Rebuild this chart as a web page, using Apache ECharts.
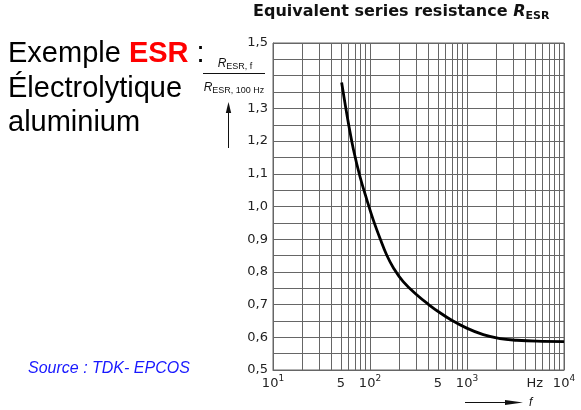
<!DOCTYPE html>
<html>
<head>
<meta charset="utf-8">
<script src="https://cdn.jsdelivr.net/npm/echarts@6/dist/echarts.min.js"></script>
<style>
  html, body { margin: 0; padding: 0; background: #fff; }
  #chart { width: 581px; height: 410px; }
</style>
</head>
<body>
<div id="chart"></div>
<script>
// Normalised ESR curve R_ESR,f / R_ESR,100Hz versus frequency (Hz)
const freqHz = [51, 55.3, 60.8, 67.3, 78.9, 92.5, 108, 127, 149, 174, 220, 303, 399, 527, 696, 993, 1472, 2189, 3254, 5230, 10000];
const esrRatio = [1.379, 1.315, 1.244, 1.176, 1.091, 1.022, 0.959, 0.902, 0.851, 0.813, 0.770, 0.730, 0.701, 0.675, 0.652, 0.628, 0.608, 0.596, 0.591, 0.588, 0.587];

// Frequency axis labels (base text + optional exponent)
const xLabelValues = [10, 50, 100, 500, 1000, 5000, 10000];
const xLabelBase = ['10', '5', '10', '5', '10', 'Hz', '10'];
const xLabelExp = ['1', '', '2', '', '3', '', '4'];

// Ratio axis labels; 1,4 is left out where the quantity name sits
const yLabelValues = [0.5, 0.6, 0.7, 0.8, 0.9, 1.0, 1.1, 1.2, 1.3, 1.5];

// Intermediate log-grid lines inside each decade
const minorFreqLines = [20, 30, 40, 50, 60, 70, 80, 90,
                        200, 300, 400, 500, 600, 700, 800, 900,
                        2000, 3000, 4000, 5000, 6000, 7000, 8000, 9000];

const gridColor = '#666';
const chart = echarts.init(document.getElementById('chart'), null, { renderer: 'canvas' });

const option = {
  animation: false,
  backgroundColor: '#fff',
  grid: {
    left: 273, top: 43, right: 17, bottom: 40,
    show: true, borderColor: gridColor, borderWidth: 1
  },
  xAxis: {
    type: 'log',
    logBase: 10,
    min: 10,
    max: 10000,
    axisLine: { show: true, lineStyle: { color: gridColor, width: 1 } },
    axisTick: { show: false },
    splitLine: { show: true, lineStyle: { color: gridColor, width: 1 } },
    axisLabel: {
      customValues: xLabelValues,
      margin: 4,
      color: '#222',
      fontFamily: 'DejaVu Sans',
      fontSize: 13,
      formatter: function (v) {
        const i = xLabelValues.findIndex(function (x) { return Math.abs(x - v) / x < 1e-6; });
        if (i < 0) return '';
        return xLabelExp[i] ? '{b|' + xLabelBase[i] + '}{s|' + xLabelExp[i] + '}' : '{b|' + xLabelBase[i] + '}';
      },
      rich: {
        b: { fontFamily: 'DejaVu Sans', fontSize: 13, color: '#222', lineHeight: 16, verticalAlign: 'bottom' },
        s: { fontFamily: 'DejaVu Sans', fontSize: 9, color: '#222', lineHeight: 10, verticalAlign: 'top' }
      }
    }
  },
  yAxis: {
    type: 'value',
    min: 0.5,
    max: 1.5,
    interval: 0.1,
    axisLine: { show: true, lineStyle: { color: gridColor, width: 1 } },
    axisTick: { show: false },
    splitLine: { show: true, lineStyle: { color: gridColor, width: 1 } },
    minorTick: { show: false, splitNumber: 2 },
    minorSplitLine: { show: true, lineStyle: { color: gridColor, width: 1 } },
    axisLabel: {
      margin: 5,
      color: '#222',
      fontFamily: 'DejaVu Sans',
      fontSize: 13,
      formatter: function (v) {
        const shown = yLabelValues.some(function (y) { return Math.abs(y - v) < 1e-6; });
        return shown ? v.toFixed(1).replace('.', ',') : '';
      }
    }
  },
  series: [
    {
      // carries the 2..9 lines of each decade
      type: 'line',
      data: [],
      z: 1,
      silent: true,
      markLine: {
        z: 1,
        silent: true,
        symbol: ['none', 'none'],
        label: { show: false },
        lineStyle: { type: 'solid', color: gridColor, width: 1 },
        emphasis: { disabled: true },
        data: minorFreqLines.map(function (f) { return { xAxis: f }; })
      }
    },
    {
      name: 'ESR',
      type: 'line',
      z: 5,
      smooth: 0.4,
      showSymbol: false,
      symbol: 'none',
      lineStyle: { color: '#000', width: 2.8 },
      data: freqHz.map(function (f, i) { return [f, esrRatio[i]]; })
    }
  ],
  graphic: [
    {
      type: 'text', x: 253, y: 1.5,
      style: {
        text: '{t|Equivalent series resistance }{r|R}{s|ESR}',
        rich: {
          t: { fontFamily: 'DejaVu Sans', fontWeight: 'bold', fontSize: 16, fill: '#111', lineHeight: 20 },
          r: { fontFamily: 'DejaVu Sans', fontWeight: 'bold', fontStyle: 'italic', fontSize: 16, fill: '#111', lineHeight: 20 },
          s: { fontFamily: 'DejaVu Sans', fontWeight: 'bold', fontSize: 11, fill: '#111', lineHeight: 11, verticalAlign: 'bottom' }
        }
      }
    },
    {
      type: 'text', x: 8, y: 37,
      style: {
        text: '{n|Exemple }{e|ESR}{n| :}\n{n|Électrolytique}\n{n|aluminium}',
        rich: {
          n: { fontFamily: 'Liberation Sans', fontSize: 29, fill: '#000', lineHeight: 34.5 },
          e: { fontFamily: 'Liberation Sans', fontWeight: 'bold', fontSize: 29, fill: '#ff0000', lineHeight: 34.5 }
        }
      }
    },
    {
      type: 'text', x: 28, y: 361,
      style: {
        text: 'Source : TDK- EPCOS',
        fontFamily: 'Liberation Sans', fontStyle: 'italic', fontSize: 16,
        fill: '#1818ff', lineHeight: 16
      }
    },
    // y-axis quantity: R_ESR,f / R_ESR,100 Hz
    {
      type: 'text', x: 235, y: 57,
      style: {
        text: '{r|R}{s|ESR, f}',
        align: 'center',
        rich: {
          r: { fontFamily: 'Liberation Sans', fontStyle: 'italic', fontSize: 12, fill: '#111', lineHeight: 14 },
          s: { fontFamily: 'Liberation Sans', fontSize: 9, fill: '#111', lineHeight: 9, verticalAlign: 'bottom' }
        }
      }
    },
    {
      type: 'line',
      shape: { x1: 203, y1: 73.5, x2: 265, y2: 73.5 },
      style: { stroke: '#111', lineWidth: 1 }
    },
    {
      type: 'text', x: 234, y: 81,
      style: {
        text: '{r|R}{s|ESR, 100 Hz}',
        align: 'center',
        rich: {
          r: { fontFamily: 'Liberation Sans', fontStyle: 'italic', fontSize: 12, fill: '#111', lineHeight: 14 },
          s: { fontFamily: 'Liberation Sans', fontSize: 9, fill: '#111', lineHeight: 9, verticalAlign: 'bottom' }
        }
      }
    },
    {
      type: 'line',
      shape: { x1: 228.5, y1: 110, x2: 228.5, y2: 148 },
      style: { stroke: '#111', lineWidth: 1 }
    },
    {
      type: 'polygon',
      shape: { points: [[228.5, 102], [225.8, 113], [231.2, 113]] },
      style: { fill: '#111' }
    },
    // frequency arrow below the axis
    {
      type: 'line',
      shape: { x1: 465, y1: 402.5, x2: 508, y2: 402.5 },
      style: { stroke: '#111', lineWidth: 1 }
    },
    {
      type: 'polygon',
      shape: { points: [[523, 402.5], [505, 400], [505, 405]] },
      style: { fill: '#111' }
    },
    {
      type: 'text', x: 529, y: 396,
      style: {
        text: 'f',
        fontFamily: 'Liberation Sans', fontStyle: 'italic', fontSize: 12,
        fill: '#111', lineHeight: 14
      }
    }
  ]
};

chart.setOption(option);
</script>
</body>
</html>
